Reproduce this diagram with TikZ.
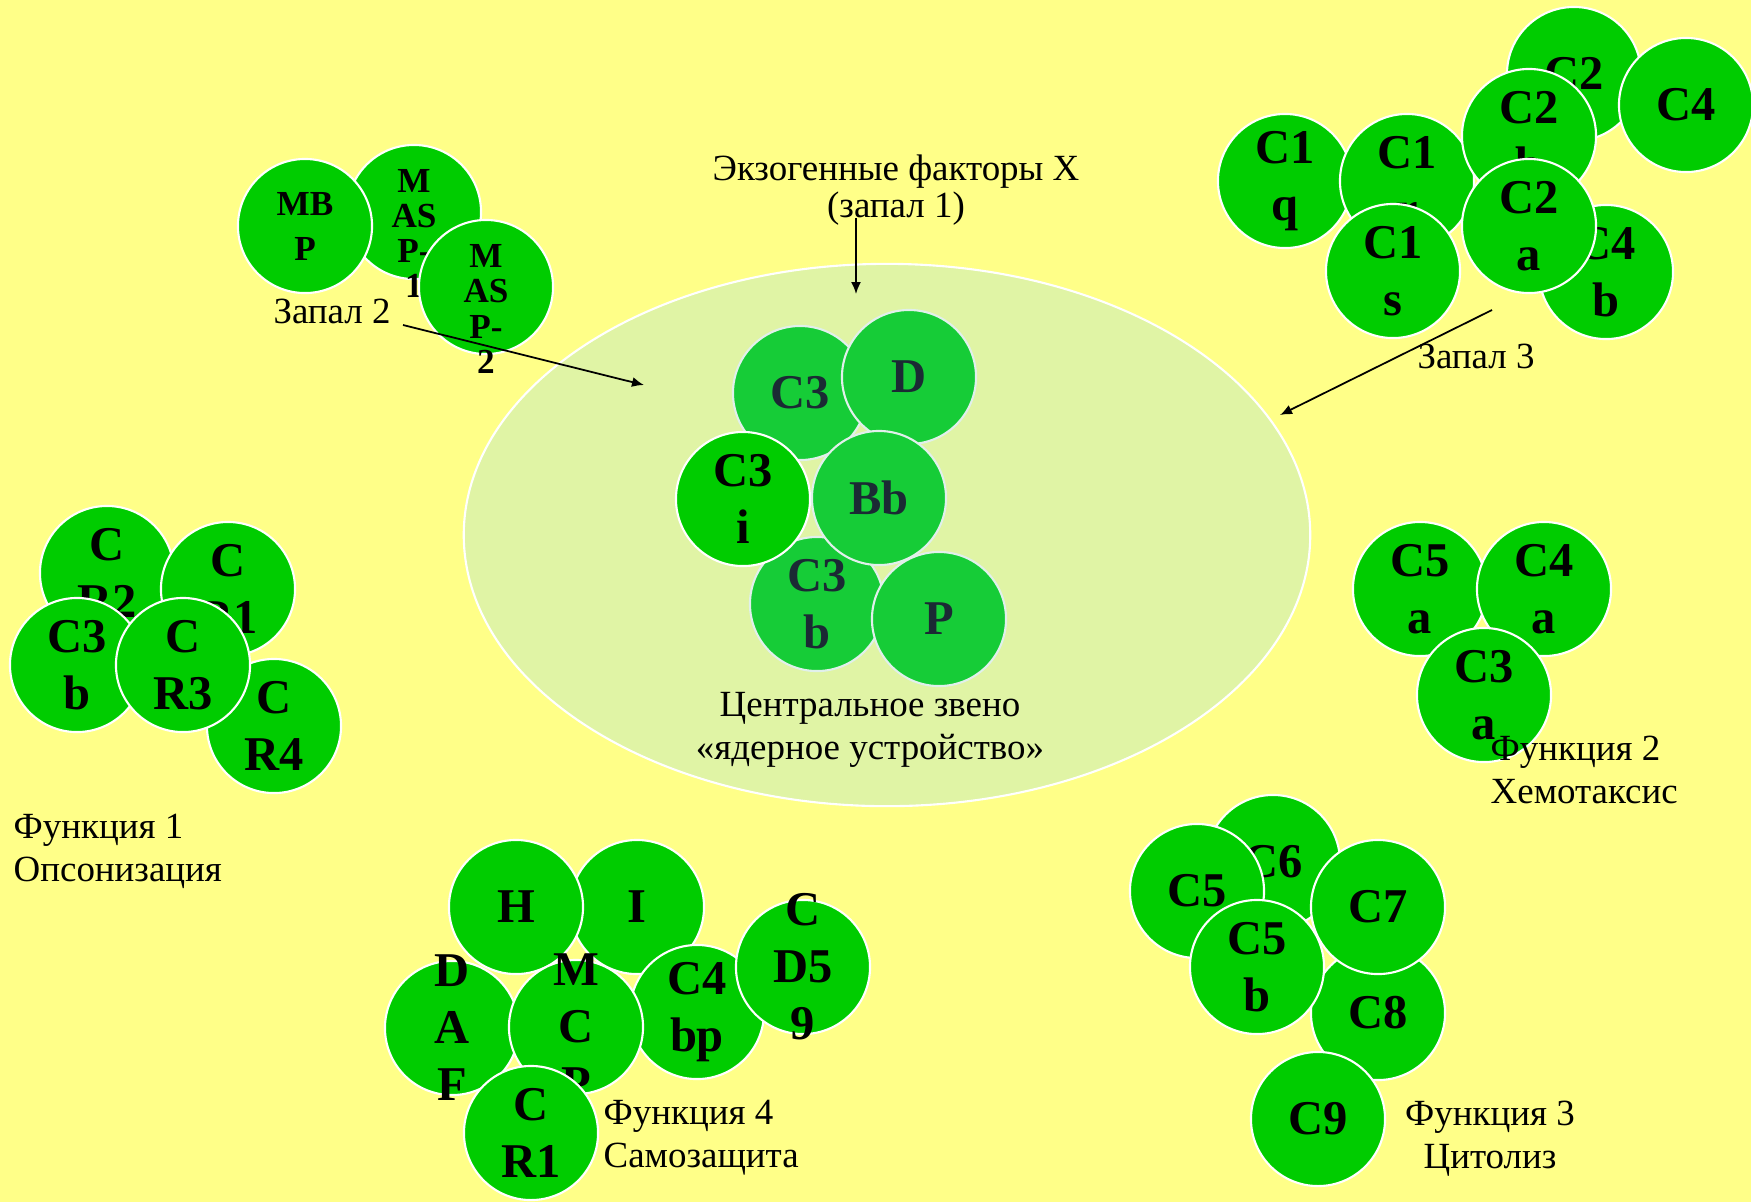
\documentclass[tikz,border=0pt]{standalone}
\usepackage{fontspec}
\setmainfont{Liberation Serif}
\usetikzlibrary{positioning, shapes.geometric, arrows.meta}

\definecolor{paper}{RGB}{255,255,136}
\definecolor{corefill}{RGB}{224,244,165}
\definecolor{protein}{RGB}{0,204,0}
\definecolor{coreprotein}{RGB}{22,204,55}
\definecolor{coreink}{RGB}{27,42,52}
\definecolor{coreedge}{RGB}{225,240,235}

\tikzset{
  comp/.style={circle, draw=white, line width=0.6pt, fill=protein, minimum size=1.34cm,
    inner sep=0pt, align=center, font=\fontsize{13.8}{16.2}\selectfont\bfseries},
  corecomp/.style={comp, fill=coreprotein, draw=coreedge, text=coreink},
  comptxt/.style={align=center, inner sep=0pt, font=\fontsize{13.8}{16.2}\selectfont\bfseries},
  masptxt/.style={align=center, inner sep=0pt, font=\fontsize{10}{10}\selectfont\bfseries},
  note/.style={align=center, inner sep=0pt, font=\fontsize{10.5}{12.2}\selectfont},
  fuse/.style={-{Latex[length=0.12cm, width=0.1cm]}, line width=0.5pt},
}

\begin{document}
\begin{tikzpicture}[x=0.01cm, y=-0.01cm]
            % Sheet
            \useasboundingbox (0,0) rectangle (1751,1202);
            \fill[paper] (0,0) rectangle (1751,1202);

            % Central link
            \node[ellipse, draw=white, line width=0.6pt, fill=corefill, inner sep=0pt,
                  minimum width=8.46cm, minimum height=5.42cm] (core) at (887,535) {};
            \node[corecomp] (c3) at (800,393) {C3};
            \node[corecomp] (d) at (909,377) {D};
            \node[corecomp] (c3b) at (817,604) {C3\\b};
            \node[corecomp] (p) at (939,619) {P};
            \node[comp] (c3i) at (743,499) {C3\\i};
            \node[corecomp] (bb) at (879,498) {Bb};

            % Lectin pathway
            \node[comp, label={[masptxt, yshift=-0.215cm]center:{M\\AS\\P-\\1}}] (masp1) at (414,212) {};
            \node[comp, font=\fontsize{10}{12.8}\selectfont\bfseries] (mbp) at (305,226) {MB\\P};
            \node[comp, label={[masptxt, yshift=-0.22cm]center:{M\\AS\\P-\\2}}] (masp2) at (486,287) {};

            % Classical pathway
            \node[comp] (c2) at (1574,74) {C2};
            \node[comp] (c4) at (1686,105) {C4};
            \node[comp] (c4b) at (1606,272) {C4\\b};
            \node[comp] (c1q) at (1285,181) {C1\\q};
            \node[comp] (c1r) at (1407,181) {C1\\r};
            \node[comp] (c2b) at (1529,136) {C2\\b};
            \node[comp] (c1s) at (1393,271) {C1\\s};
            \node[comp] (c2a) at (1529,226) {C2\\a};

            % Opsonization
            \node[comp] (cr2) at (107,573) {C\\R2};
            \node[comp] (cr1) at (228,589) {C\\R1};
            \node[comp] (cr4) at (274,726) {C\\R4};
            \node[comp] (c3bo) at (77,665) {C3\\b};
            \node[comp] (cr3) at (183,665) {C\\R3};

            % Chemotaxis
            \node[comp] (c5a) at (1420,589) {C5\\a};
            \node[comp] (c4a) at (1544,589) {C4\\a};
            \node[comp] (c3a) at (1484,695) {C3\\a};

            % Self-protection
            \node[comp] (i) at (637,907) {I};
            \node[comp, label={[comptxt]center:{D\\A\\F}}] (daf) at (452,1028) {};
            \node[comp] (h) at (516,907) {H};
            \node[comp] (c4bp) at (697,1012) {C4\\bp};
            \node[comp, label={[comptxt]center:{M\\C\\P}}] (mcp) at (576,1027) {};
            \node[comp, label={[comptxt]center:{C\\D5\\9}}] (cd59) at (803,967) {};
            \node[comp] (cr1s) at (531,1133) {C\\R1};

            % Cytolysis
            \node[comp] (c6) at (1273,862) {C6};
            \node[comp] (c8) at (1378,1013) {C8};
            \node[comp] (c5) at (1197,891) {C5};
            \node[comp] (c7) at (1378,907) {C7};
            \node[comp] (c5b) at (1257,967) {C5\\b};
            \node[comp] (c9) at (1318,1119) {C9};

            % Captions
            \node[note, font=\fontsize{10.5}{10.3}\selectfont] (exo) at (896,190) {Экзогенные факторы X\\(запал 1)};
            \node[note] (coretxt) at (870,730) {Центральное звено\\«ядерное устройство»};
            \node[note] (zap2) at (332,311) {Запал 2};
            \node[note] (zap3) at (1476,356) {Запал 3};
            \node[note, align=left, anchor=west] (func1) at (13,851) {Функция 1\\Опсонизация};
            \node[note, align=left, anchor=west] (func2) at (1490,770) {Функция 2\\Хемотаксис};
            \node[note] (func3) at (1490,1139) {Функция 3\\Цитолиз};
            \node[note, align=left, anchor=west] (func4) at (603,1138) {Функция 4\\Самозащита};

            % Fuses
            \coordinate (fuse1a) at (856,218);
            \coordinate (fuse1b) at (856,294);
            \coordinate (fuse2a) at (403,325);
            \coordinate (fuse2b) at (644,385);
            \coordinate (fuse3a) at (1492,310);
            \coordinate (fuse3b) at (1280,415);
            \draw[fuse] (fuse1a) -- (fuse1b);
            \draw[fuse] (fuse2a) -- (fuse2b);
            \draw[fuse] (fuse3a) -- (fuse3b);
\end{tikzpicture}
\end{document}
